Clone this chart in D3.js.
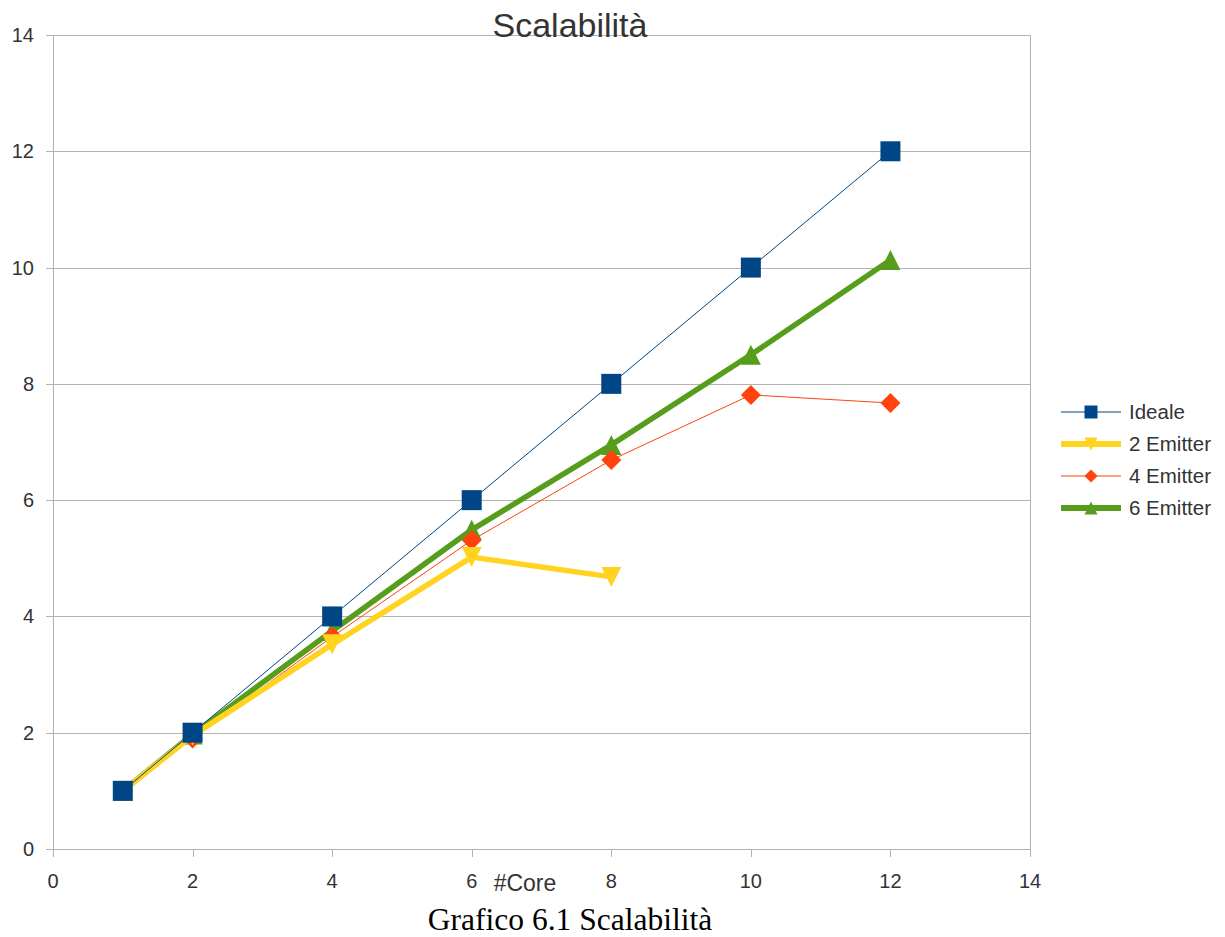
<!DOCTYPE html>
<html>
<head>
<meta charset="utf-8">
<script src="https://cdn.jsdelivr.net/npm/d3@7"></script>
<style>
  html, body { margin: 0; padding: 0; background: #fff; }
  svg { display: block; }
  text { font-family: "Liberation Sans", Arial, sans-serif; fill: #333; }
</style>
</head>
<body>
<svg id="chart" width="1225" height="937"></svg>
<script>
// Number of cores on the x axis
const cores = [1, 2, 4, 6, 8, 10, 12];

// Speed-up measured for each configuration
const ideale    = [1, 2, 4, 6, 8, 10, 12];
const emitter2  = [1, 1.95, 3.52, 5.02, 4.68];
const emitter4  = [1, 1.9, 3.65, 5.31, 6.69, 7.81, 7.67];
const emitter6  = [1, 1.97, 3.75, 5.49, 6.95, 8.5, 10.13];

const seriesNames = ["Ideale", "2 Emitter", "4 Emitter", "6 Emitter"];
const seriesValues = [ideale, emitter2, emitter4, emitter6];

const xTicks = [0, 2, 4, 6, 8, 10, 12, 14];
const yTicks = [0, 2, 4, 6, 8, 10, 12, 14];

const titleText = "Scalabilità";
const xAxisTitle = "#Core";
const captionText = "Grafico 6.1 Scalabilità";

// Presentation of each series
const styles = [
  { color: "#004586", width: 1,   symbol: "square" },
  { color: "#ffd320", width: 5.5, symbol: "down" },
  { color: "#ff420e", width: 1,   symbol: "diamond" },
  { color: "#579d1c", width: 5.5, symbol: "up" }
];

const svg = d3.select("#chart");
const x = d3.scaleLinear().domain([0, 14]).range([53, 1030]);
const y = d3.scaleLinear().domain([0, 14]).range([849, 35]);

// Symbol path centred on its bounding box
function symbolPath(kind, s) {
  const h = s / 2;
  if (kind === "square")  return `M${-h},${-h}H${h}V${h}H${-h}Z`;
  if (kind === "diamond") return `M0,${-h}L${h},0L0,${h}L${-h},0Z`;
  if (kind === "up")      return `M0,${-h}L${h},${h}L${-h},${h}Z`;
  if (kind === "down")    return `M${-h},${-h}L${h},${-h}L0,${h}Z`;
}

// Horizontal grid lines
svg.append("g")
  .selectAll("line")
  .data(yTicks)
  .join("line")
  .attr("x1", 46).attr("x2", 1030)
  .attr("y1", d => Math.round(y(d)) + 0.5).attr("y2", d => Math.round(y(d)) + 0.5)
  .attr("stroke", "#b3b3b3").attr("stroke-width", 1);

// Left axis and right frame
svg.append("line")
  .attr("x1", 53.5).attr("x2", 53.5).attr("y1", y(14)).attr("y2", 857)
  .attr("stroke", "#b3b3b3");
svg.append("line")
  .attr("x1", 1030.5).attr("x2", 1030.5).attr("y1", y(14)).attr("y2", 857)
  .attr("stroke", "#b3b3b3");

// X tick marks
svg.append("g")
  .selectAll("line")
  .data(xTicks)
  .join("line")
  .attr("x1", d => Math.round(x(d)) + 0.5).attr("x2", d => Math.round(x(d)) + 0.5)
  .attr("y1", y(0)).attr("y2", 857)
  .attr("stroke", "#b3b3b3");

// Tick labels
svg.append("g")
  .selectAll("text")
  .data(yTicks)
  .join("text")
  .attr("x", 34).attr("y", d => y(d) + 7)
  .attr("text-anchor", "end")
  .style("font-size", "20px")
  .text(d => d);

svg.append("g")
  .selectAll("text")
  .data(xTicks)
  .join("text")
  .attr("x", d => x(d)).attr("y", 888)
  .attr("text-anchor", "middle")
  .style("font-size", "20px")
  .text(d => d);

// Series, drawn last-to-first so the ideal line sits on top
const line = d3.line().x(d => x(d[0])).y(d => y(d[1]));
const order = [3, 2, 1, 0];
order.forEach(i => {
  const pts = seriesValues[i].map((v, k) => [cores[k], v]);
  const st = styles[i];
  const g = svg.append("g");
  g.append("path")
    .datum(pts)
    .attr("d", line)
    .attr("fill", "none")
    .attr("stroke", st.color)
    .attr("stroke-width", st.width)
    .attr("stroke-linejoin", "round");
  g.selectAll("path.sym")
    .data(pts)
    .join("path")
    .attr("class", "sym")
    .attr("transform", d => `translate(${x(d[0])},${y(d[1])})`)
    .attr("d", symbolPath(st.symbol, 20))
    .attr("fill", st.color);
});

// Legend
const legend = svg.append("g");
seriesNames.forEach((name, i) => {
  const cy = 412 + i * 32;
  const st = styles[i];
  legend.append("line")
    .attr("x1", 1061).attr("x2", 1121)
    .attr("y1", cy).attr("y2", cy)
    .attr("stroke", st.color)
    .attr("stroke-width", st.width === 1 ? 1 : 6);
  legend.append("path")
    .attr("transform", `translate(1091,${cy})`)
    .attr("d", symbolPath(st.symbol, 13))
    .attr("fill", st.color);
  legend.append("text")
    .attr("x", 1129).attr("y", cy + 7)
    .style("font-size", "20.5px")
    .text(name);
});

// Titles
svg.append("text")
  .attr("x", 570).attr("y", 37)
  .attr("text-anchor", "middle")
  .style("font-size", "34px")
  .text(titleText);

svg.append("text")
  .attr("x", 525).attr("y", 891)
  .attr("text-anchor", "middle")
  .style("font-size", "23px")
  .text(xAxisTitle);

svg.append("text")
  .attr("x", 570).attr("y", 930)
  .attr("text-anchor", "middle")
  .style("font-family", "'Liberation Serif', 'Times New Roman', serif")
  .style("font-size", "31.5px")
  .style("fill", "#000")
  .text(captionText);
</script>
</body>
</html>
